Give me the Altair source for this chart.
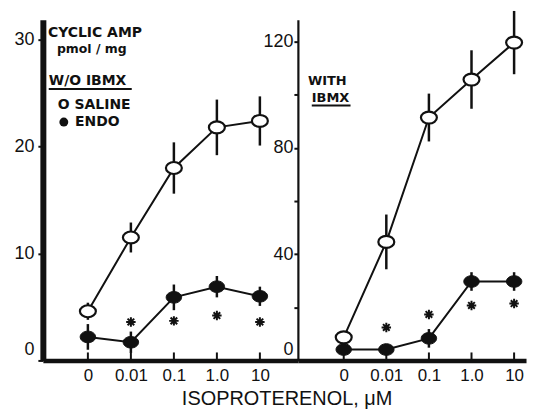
import altair as alt
import pandas as pd

# ---------------- data ----------------
conc_labels = ["0", "0.01", "0.1", "1.0", "10"]
conc_index = [0, 1, 2, 3, 4]

# without IBMX (left panel), cyclic AMP pmol/mg
left_saline = [4.6, 11.5, 18.0, 21.8, 22.4]
left_saline_err = [0.8, 1.4, 2.4, 2.6, 2.3]
left_endo = [2.2, 1.7, 5.9, 6.9, 6.0]
left_endo_err = [1.2, 1.0, 1.2, 1.0, 0.9]
left_star_index = [1, 2, 3, 4]
left_star = [3.6, 3.7, 4.2, 3.6]

# with IBMX (right panel)
right_saline = [8.7, 44.6, 91.4, 105.7, 119.6]
right_saline_err = [0.0, 10.3, 9.0, 11.0, 11.9]
right_endo = [4.1, 4.1, 8.3, 29.7, 29.7]
right_endo_err = [0.0, 0.0, 3.5, 3.5, 3.5]
right_star_index = [1, 2, 3, 4]
right_star = [12.4, 17.3, 20.7, 21.4]

left_y_ticks = [0, 10, 20, 30]
right_y_ticks = [0, 20, 40, 60, 80, 100, 120]

x_title = "ISOPROTERENOL, μM"

INK = "#111111"
H = 342
ELLIPSE = "M -1 0 A 1 0.75 0 1 1 1 0 A 1 0.75 0 1 1 -1 0 Z"
ASTER = "M -1 0 L 1 0 M 0 -1 L 0 1 M -0.7 -0.7 L 0.7 0.7 M -0.7 0.7 L 0.7 -0.7"
LABEL_EXPR = "[" + ",".join("'%s'" % l for l in conc_labels) + "][datum.value]"


def panel(sal, sal_err, endo, endo_err, star_idx, stars, xdom, ydom, yticks,
          label_step, width, domain_w, tick_size, label_pad, texts, underlines, dots):
    xs = alt.Scale(domain=xdom, nice=False, zero=False)
    ys = alt.Scale(domain=ydom, nice=False, zero=False)
    x_axis = alt.Axis(values=conc_index, labelExpr=LABEL_EXPR, title=None,
                      grid=False, ticks=False, domainColor=INK, domainWidth=4.5,
                      labelFont="Liberation Sans", labelFontSize=17, labelColor=INK,
                      labelPadding=7)
    y_axis = alt.Axis(values=yticks,
                      labelExpr="datum.value %% %d == 0 ? datum.label : ''" % label_step,
                      title=None, grid=False, domainColor=INK, domainWidth=domain_w,
                      tickColor=INK, tickWidth=2, tickSize=tick_size,
                      labelFont="Liberation Sans", labelFontSize=18, labelColor=INK,
                      labelPadding=label_pad,
                      labelOffset={"condition": {"test": "datum.value === 0", "value": -11},
                                   "value": 0})

    def X(field="x"):
        return alt.X(field + ":Q", scale=xs, axis=x_axis)

    def Y(field="y"):
        return alt.Y(field + ":Q", scale=ys, axis=y_axis)

    err_rows = []
    for i, (v, e) in enumerate(zip(sal, sal_err)):
        if e > 0:
            err_rows.append({"x": conc_index[i], "lo": v - e, "hi": v + e})
    for i, (v, e) in enumerate(zip(endo, endo_err)):
        if e > 0:
            err_rows.append({"x": conc_index[i], "lo": v - e, "hi": v + e})
    err_df = pd.DataFrame(err_rows)

    pts = pd.DataFrame({
        "x": conc_index * 2,
        "y": list(sal) + list(endo),
        "series": ["saline"] * 5 + ["endo"] * 5,
    })
    star_df = pd.DataFrame({"x": star_idx, "y": stars})
    tick_df = pd.DataFrame({"x": conc_index})
    text_df = pd.DataFrame(texts)
    ul_df = pd.DataFrame(underlines)

    errs = alt.Chart(err_df).mark_rule(color=INK, strokeWidth=2.5).encode(
        x=X(), y=Y("lo"), y2="hi:Q",
    )
    lines = alt.Chart(pts).mark_line(color=INK, strokeWidth=2).encode(
        x=X(), y=Y(), detail="series:N"
    )
    open_pts = alt.Chart(pts).transform_filter("datum.series == 'saline'").mark_point(
        shape=ELLIPSE, size=256, fill="white", stroke=INK, strokeWidth=2.2,
        opacity=1, fillOpacity=1
    ).encode(x=X(), y=Y())
    fill_pts = alt.Chart(pts).transform_filter("datum.series == 'endo'").mark_point(
        shape=ELLIPSE, size=240, filled=True, fill=INK, stroke=INK, strokeWidth=1,
        opacity=1
    ).encode(x=X(), y=Y())
    star_pts = alt.Chart(star_df).mark_point(
        shape=ASTER, size=90, stroke=INK, strokeWidth=2, filled=False, opacity=1
    ).encode(x=X(), y=Y())
    xticks = alt.Chart(tick_df).mark_rule(color=INK, strokeWidth=2).encode(
        x=X(), y=alt.value(H - 8), y2=alt.value(H)
    )
    txt = alt.Chart(text_df).mark_text(
        align="left", baseline="middle", font="DejaVu Sans", fontWeight="bold",
        color=INK
    ).encode(
        x=X(), y=Y(), text="t:N",
        size=alt.Size("fs:Q", scale=None, legend=None)
    )
    uls = alt.Chart(ul_df).mark_rule(color=INK, strokeWidth=2).encode(
        x=X(), x2="x2:Q", y=Y()
    )
    layers = [errs, xticks, lines, open_pts, fill_pts, star_pts, txt, uls]
    if dots:
        dot_df = pd.DataFrame(dots)
        layers.append(alt.Chart(dot_df).mark_point(
            shape="circle", size=80, filled=True, color=INK, opacity=1
        ).encode(x=X(), y=Y()))
    return alt.layer(*layers).properties(width=width, height=H)


left_texts = [
    {"x": -0.93, "y": 30.6, "t": "CYCLIC  AMP", "fs": 14},
    {"x": -0.72, "y": 29.1, "t": "pmol / mg", "fs": 12.5},
    {"x": -0.91, "y": 26.1, "t": "W/O  IBMX", "fs": 14},
    {"x": -0.70, "y": 23.9, "t": "O SALINE", "fs": 14},
    {"x": -0.30, "y": 22.3, "t": "ENDO", "fs": 14},
]
left_ul = [{"x": -0.91, "x2": 1.02, "y": 25.4}]
left_dots = [{"x": -0.56, "y": 22.3}]

right_texts = [
    {"x": -0.84, "y": 105.3, "t": "WITH", "fs": 13},
    {"x": -0.75, "y": 98.6, "t": "IBMX", "fs": 13},
]
right_ul = [{"x": -0.75, "x2": 0.16, "y": 95.9}]

left = panel(left_saline, left_saline_err, left_endo, left_endo_err,
             left_star_index, left_star, [-1.047, 4.884], [0, 31.87],
             left_y_ticks, 10, 256, 6, 5, 4, left_texts, left_ul, left_dots)
right = panel(right_saline, right_saline_err, right_endo, right_endo_err,
              right_star_index, right_star, [-1.076, 4.28], [0, 128.2],
              right_y_ticks, 40, 229, 2.2, 4, 1, right_texts, right_ul, None)

chart = alt.hconcat(
    left, right, spacing=0, bounds="flush",
    title=alt.TitleParams(x_title, orient="bottom", anchor="middle",
                          font="Liberation Sans", fontSize=20, fontWeight="normal",
                          color=INK, offset=6, dx=17)
).properties(
    padding={"top": 0, "left": 5, "right": 5, "bottom": 5},
    background="white"
).configure_view(stroke=None)

chart.save("out.html", embed_options={"renderer": "svg", "actions": False})
